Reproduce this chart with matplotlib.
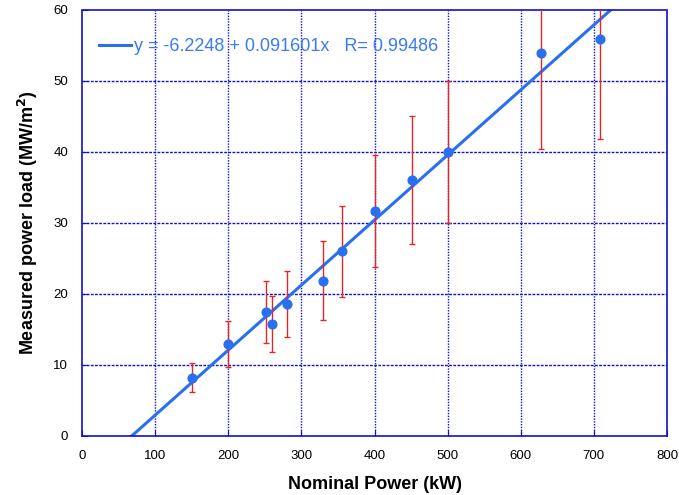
import numpy as np
import matplotlib
matplotlib.use("Agg")
import matplotlib.pyplot as plt

plt.rcParams['font.family'] = ['Liberation Sans', 'DejaVu Sans']

# data
power_kw = [150, 200, 251, 260, 281, 330, 356, 401, 451, 501, 628, 708]
load = [8.2, 13.0, 17.5, 15.8, 18.6, 21.9, 26.0, 31.7, 36.0, 40.0, 53.9, 55.9]
err = [2.05, 3.25, 4.4, 3.95, 4.65, 5.5, 6.45, 7.9, 9.0, 10.05, 13.5, 14.0]
fit_a, fit_b, fit_r = -6.2248, 0.091601, 0.99486
x_ticks = [0, 100, 200, 300, 400, 500, 600, 700, 800]
y_ticks = [0, 10, 20, 30, 40, 50, 60]

fig = plt.figure(figsize=(6.79, 4.95), dpi=100)
ax = fig.add_axes([0.1208, 0.1192, 0.9823 - 0.1208, 0.9798 - 0.1192])

grid_c = '#1010d0'
for v in x_ticks[1:-1]:
    ax.axvline(v, color=grid_c, lw=1.0, ls=(0, (1, 1)), zorder=0)
for v in y_ticks[1:-1]:
    ax.axhline(v, color=grid_c, lw=1.0, ls=(0, (2, 1)), zorder=0)

xf = np.linspace(0, 800, 200)
ax.plot(xf, fit_a + fit_b * xf, color='#2a6ff0', lw=2.2, zorder=2,
        label=f'y = {fit_a} + {fit_b}x   R= {fit_r}')
ax.errorbar(power_kw, load, yerr=err, fmt='none', ecolor='#e02828', elinewidth=1.0,
            capsize=2.5, capthick=1.0, zorder=3)
ax.plot(power_kw, load, 'o', color='#2a6ff0', ms=6.3, zorder=4)

ax.set_xlim(0, 800)
ax.set_ylim(0, 60)
ax.set_xticks(x_ticks)
ax.set_yticks(y_ticks)
ax.tick_params(axis='x', labelsize=9.5, length=4, color=grid_c, direction='in', pad=10)
ax.tick_params(axis='y', labelsize=9.5, length=4, color=grid_c, direction='in', pad=10)
for s in ax.spines.values():
    s.set_color(grid_c)
    s.set_linestyle((0, (1, 1)))
    s.set_linewidth(1.2)

ax.set_xlabel('Nominal Power (kW)', fontsize=13, fontweight='bold')
ax.set_ylabel('Measured power load (MW/m$^\\mathbf{2}$)', fontsize=13, fontweight='bold')
ax.xaxis.set_label_coords(0.5, -0.094)
ax.yaxis.set_label_coords(-0.072, 0.5)

leg = ax.legend(loc='upper left', frameon=False, fontsize=13, handlelength=1.75,
                handletextpad=0.15, bbox_to_anchor=(0.002, 0.972))
for t in leg.get_texts():
    t.set_color('#3a7af5')

fig.savefig('out.png', dpi=100)
